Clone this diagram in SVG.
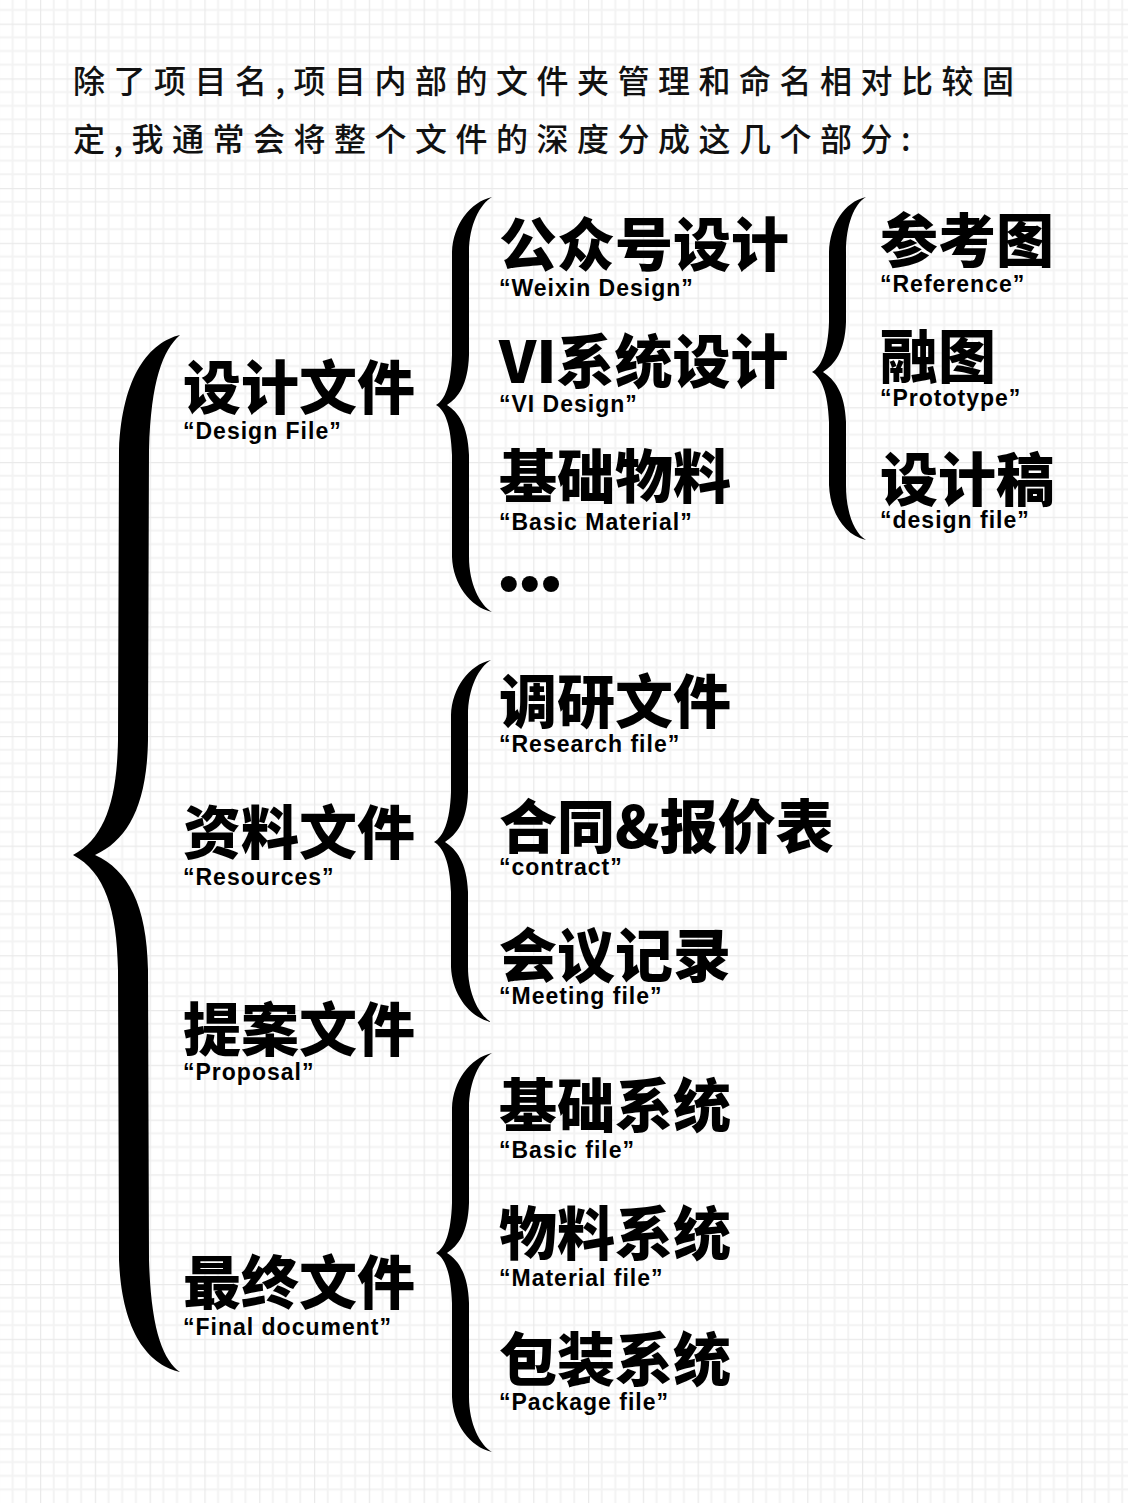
<svg xmlns="http://www.w3.org/2000/svg" width="1128" height="1503" viewBox="0 0 1128 1503">
<defs>
<pattern id="grid" x="40" y="23.6" width="54.8" height="54.8" patternUnits="userSpaceOnUse">
<path d="M13.7 0V54.8M27.4 0V54.8M41.1 0V54.8M0 13.7H54.8M0 27.4H54.8M0 41.1H54.8" stroke="#f3f3f3" stroke-width="2" fill="none"/>
<path d="M0 0V54.8M0 0H54.8" stroke="#eaeaea" stroke-width="2.5" fill="none"/>
</pattern>
<style>
.intro{font-family:"Noto Sans CJK SC","Noto Sans",sans-serif;font-size:32px;font-weight:500;letter-spacing:8.5px;fill:#111}
.zh{font-family:"Noto Sans CJK SC","Noto Sans",sans-serif;font-size:58px;font-weight:900;fill:#000}
.en{font-family:"Liberation Sans",Arial,sans-serif;font-size:23px;font-weight:bold;letter-spacing:1px;fill:#000}
.brace{fill:#000}
</style>
</defs>
<rect width="1128" height="1503" fill="#fff"/>
<rect width="1128" height="1503" fill="url(#grid)"/>

<g id="intro">
<text class="intro" x="73" y="93">除了项目名,项目内部的文件夹管理和命名相对比较固</text>
<text class="intro" x="73" y="151">定,我通常会将整个文件的深度分成这几个部分:</text>
</g>

<g id="connectors">
<path class="brace" d="M180,335 C150,342 122,375 119,450 L118,740 C117,800 105,838 73,855 C105,872 117,910 118,970 L119,1260 C122,1335 150,1365 180,1372 C163,1360 151,1330 149,1260 L148,970 C147,905 128,870 95,855 C128,840 147,805 148,740 L149,450 C151,380 163,350 180,335 Z"/>
<path class="brace" d="M492,197 C470,202 453,225 452,252 L452,355 C451,385 445,400 436,405 C445,410 451,425 452,455 L452,557 C453,584 470,607 492,612 C480,605 469,584 469,557 L469,455 C468,425 458,412 447,405 C458,398 468,385 469,355 L469,252 C469,225 480,204 492,197 Z"/>
<path class="brace" d="M491,660 C469,665 452,688 451,715 L451,792 C450,822 443,837 434,842 C443,847 450,862 451,892 L451,967 C452,994 469,1017 491,1022 C479,1015 468,994 468,967 L468,892 C467,862 456,849 445,842 C456,835 467,822 468,792 L468,715 C468,688 479,667 491,660 Z"/>
<path class="brace" d="M492,1053 C470,1058 453,1081 452,1108 L452,1203 C451,1233 445,1248 436,1253 C445,1258 451,1273 452,1303 L452,1397 C453,1424 470,1447 492,1452 C480,1445 469,1424 469,1397 L469,1303 C468,1273 458,1260 447,1253 C458,1246 468,1233 469,1203 L469,1108 C469,1081 480,1060 492,1053 Z"/>
<path class="brace" d="M866,197 C844,202 830,225 829,252 L829,322 C828,352 821,367 812,372 C821,377 828,392 829,422 L829,485 C830,512 844,535 866,540 C854,533 846,512 846,485 L846,422 C845,392 834,379 823,372 C834,365 845,352 846,322 L846,252 C846,225 854,204 866,197 Z"/>
</g>

<g id="design-file"><text><tspan class="zh" x="183" y="409">设计文件</tspan><tspan class="en" x="183" y="439">“Design File”</tspan></text></g>
<g id="resources"><text><tspan class="zh" x="183" y="854">资料文件</tspan><tspan class="en" x="183" y="885">“Resources”</tspan></text></g>
<g id="proposal"><text><tspan class="zh" x="183" y="1051">提案文件</tspan><tspan class="en" x="183" y="1080">“Proposal”</tspan></text></g>
<g id="final-document"><text><tspan class="zh" x="183" y="1304">最终文件</tspan><tspan class="en" x="183" y="1335">“Final document”</tspan></text></g>

<g id="weixin-design"><text><tspan class="zh" x="499" y="266">公众号设计</tspan><tspan class="en" x="499" y="296">“Weixin Design”</tspan></text></g>
<g id="vi-design"><text><tspan class="zh" x="499" y="383">VI系统设计</tspan><tspan class="en" x="499" y="412">“VI Design”</tspan></text></g>
<g id="basic-material"><text><tspan class="zh" x="499" y="498">基础物料</tspan><tspan class="en" x="499" y="530">“Basic Material”</tspan></text></g>
<g id="more"><text x="499" y="602" style="font-family:'Liberation Sans',Arial,sans-serif;font-size:56px;font-weight:bold;letter-spacing:1.5px;fill:#000">•••</text></g>

<g id="research-file"><text><tspan class="zh" x="499" y="723">调研文件</tspan><tspan class="en" x="499" y="752">“Research file”</tspan></text></g>
<g id="contract"><text><tspan class="zh" x="499" y="848">合同&amp;报价表</tspan><tspan class="en" x="499" y="875">“contract”</tspan></text></g>
<g id="meeting-file"><text><tspan class="zh" x="499" y="977">会议记录</tspan><tspan class="en" x="499" y="1004">“Meeting file”</tspan></text></g>

<g id="basic-file"><text><tspan class="zh" x="499" y="1127">基础系统</tspan><tspan class="en" x="499" y="1158">“Basic file”</tspan></text></g>
<g id="material-file"><text><tspan class="zh" x="499" y="1255">物料系统</tspan><tspan class="en" x="499" y="1286">“Material file”</tspan></text></g>
<g id="package-file"><text><tspan class="zh" x="499" y="1381">包装系统</tspan><tspan class="en" x="499" y="1410">“Package file”</tspan></text></g>

<g id="reference"><text><tspan class="zh" x="880" y="262">参考图</tspan><tspan class="en" x="880" y="292">“Reference”</tspan></text></g>
<g id="prototype"><text><tspan class="zh" x="880" y="378">融图</tspan><tspan class="en" x="880" y="406">“Prototype”</tspan></text></g>
<g id="design-draft"><text><tspan class="zh" x="880" y="501">设计稿</tspan><tspan class="en" x="880" y="528">“design file”</tspan></text></g>
</svg>
